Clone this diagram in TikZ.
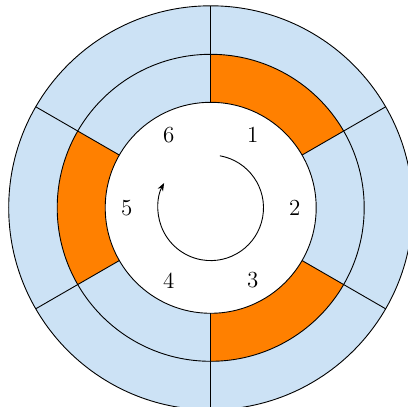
\documentclass[tikz,border=0pt]{standalone}
\usetikzlibrary{arrows.meta}
\definecolor{ringblue}{RGB}{204,226,245}
\definecolor{sectorange}{RGB}{255,128,0}
\tikzset{
  ringline/.style={draw=black, line width=0.45pt},
  numlabel/.style={font=\fontsize{11.5}{13}\selectfont, inner sep=0pt},
}
\begin{document}
\begin{tikzpicture}[x=1pt,y=1pt]
\clip (0,0) rectangle (204,203.5);
\useasboundingbox (0,0) rectangle (204,203.5);
\coordinate (c) at (105.35,99.6);
\begin{scope}[shift={(c)}]
  \def\rin{52.75}
  \def\rmid{76.75}
  \def\rout{101}
  % outer disk
  \fill[ringblue] (0,0) circle[radius=\rout];
  % orange sectors
  \foreach \a in {30,150,270}{
    \fill[sectorange] (\a:\rmid) arc[start angle=\a, end angle=\a+60, radius=\rmid]
      -- (\a+60:\rin) arc[start angle=\a+60, end angle=\a, radius=\rin] -- cycle;
  }
  \fill[white] (0,0) circle[radius=\rin];
  % radial lines
  \foreach \a in {30,90,150,210,270,330}{
    \draw[ringline] (\a:\rin) -- (\a:\rout);
  }
  \draw[ringline] (0,0) circle[radius=\rin];
  \draw[ringline] (0,0) circle[radius=\rmid];
  \draw[ringline] (0,0) circle[radius=\rout];
  % labels
  \node[numlabel] (n1) at (60:42) {1};
  \node[numlabel] (n2) at (0:42) {2};
  \node[numlabel] (n3) at (-60:42) {3};
  \node[numlabel] (n4) at (-120:42) {4};
  \node[numlabel] (n5) at (180:42) {5};
  \node[numlabel] (n6) at (120:42) {6};
  % rotation arrow
  \draw[line width=0.45pt, -{Stealth[length=4pt,width=3pt]}] (80:26.4) arc[start angle=80, end angle=-208, radius=26.4];
\end{scope}
\end{tikzpicture}
\end{document}
